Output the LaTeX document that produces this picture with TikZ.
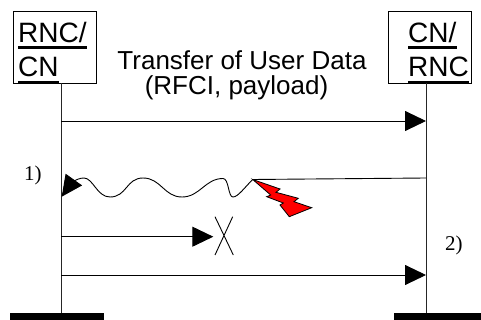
\documentclass[tikz,border=0pt]{standalone}
\usepackage{fontspec}
\setmainfont{Liberation Sans}
\newfontfamily\seriffont{Liberation Serif}
\usetikzlibrary{arrows.meta}
\begin{document}
\begin{tikzpicture}[x=1pt,y=-1pt,
  entity/.style={draw, line width=0.8pt, inner sep=0pt, anchor=north west, minimum width=82.4pt, minimum height=71.7pt},
  lbl/.style={font=\fontsize{26}{30}\selectfont, inner sep=0pt, anchor=base west},
  boxlbl/.style={font=\fontsize{28}{32}\selectfont, inner sep=0pt, anchor=base west},
  ul/.style={line width=2.5pt},
  life/.style={line width=0.9pt, draw=black!85},
  msg/.style={line width=0.9pt, -{Triangle[length=21pt,width=20pt]}},
  bar/.style={fill=black, inner sep=0pt, anchor=north west, minimum height=7pt},
  note/.style={font=\seriffont\fontsize{21}{24}\selectfont, inner sep=0pt, anchor=base west},
  bolt/.style={fill=red, draw=black, line width=0.8pt, line join=miter}]
\useasboundingbox (0,0) rectangle (481,320);
% entities
\node[entity] (lbox) at (13.3,11) {};
\node[entity] (rbox) at (388.3,11) {};
\node[boxlbl] (l1) at (18,42.3) {RNC/};
\node[boxlbl] (l2) at (18,76.7) {CN};
\node[boxlbl] (r1) at (408,42.3) {CN/};
\node[boxlbl] (r2) at (408,76.7) {RNC};
\foreach \n in {l1,l2,r1,r2}
  \draw[ul] ([yshift=-5.4pt]\n.base west) -- ([yshift=-5.4pt]\n.base east);
% bottom bars
\node[bar, minimum width=94pt] (lbar) at (10,313) {};
\node[bar, minimum width=87pt] (rbar) at (394,313) {};
% lifeline coordinates
\coordinate (La) at (61,121);   \coordinate (Ra) at (426,121);
\coordinate (Rw) at (426,178);  \coordinate (Lw) at (61.7,196.7);
\coordinate (hit) at (252.7,179.5);
\coordinate (Lx) at (61,236.7); \coordinate (Xc) at (213.3,236.7);
\coordinate (Lb) at (61,275);   \coordinate (Rb) at (426,275);
% lifelines
\draw[life] (lbox.south -| La) -- (lbar.north -| La);
\draw[life] (rbox.south -| Ra) -- (rbar.north -| Ra);
% title
\node[lbl, anchor=base] (t1) at (242,69.3) {Transfer of User Data};
\node[lbl, anchor=base] (t2) at (236.5,95) {(RFCI, payload)};
% messages
\draw[msg] (La) -- (Ra);
\draw[msg] (Rw) -- (hit) .. controls (245,187) and (238,197) .. (233,197)
  .. controls (228,197) and (229,178.5) .. (223,178.5)
  .. controls (205,178.5) and (200,197) .. (182,197)
  .. controls (164,197) and (161,178) .. (143,178)
  .. controls (126,178) and (127,197) .. (110,197)
  .. controls (97,197) and (93,178) .. (84,178)
  .. controls (76,178) and (70,185) .. (Lw);
\draw[bolt] (hit) -- (280,189) -- (276,192.3) -- (298.3,198.3) -- (294,201.7)
  -- (311.7,207.7) -- (289.3,216.7) -- (280,205) -- (283.3,203)
  -- (266.7,196.7) -- (270.7,195) -- cycle;
\draw[msg] (Lx) -- (Xc);
\draw[line width=0.9pt] (215,216.7) -- (233.3,255) (232.7,216.7) -- (215,255);
\draw[msg] (Lb) -- (Rb);
% notes
\node[note] (n1) at (24,180.7) {1)};
\node[note] (n2) at (445,250) {2)};
\end{tikzpicture}
\end{document}
